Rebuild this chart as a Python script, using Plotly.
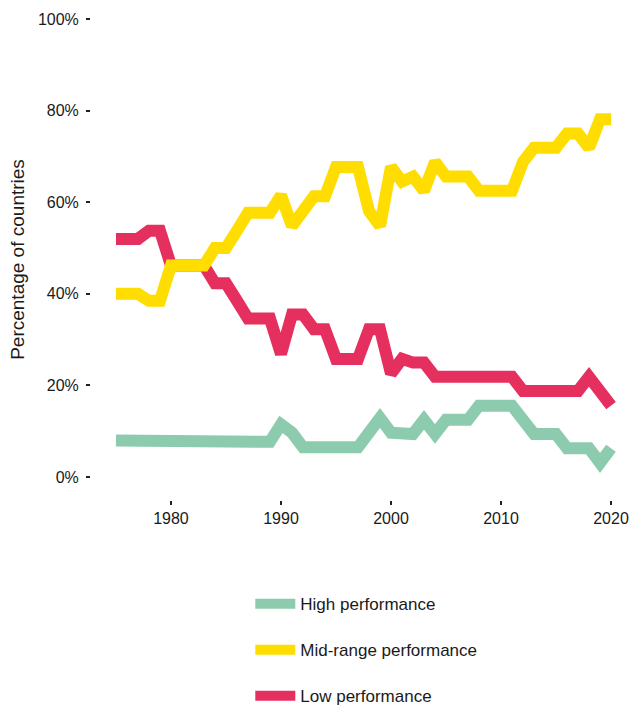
import plotly.graph_objects as go

years = list(range(1975, 2021))

high = [8.0, 8.0, 8.0, 7.7, 7.7, 7.7, 7.7, 7.7, 7.7, 7.7,
        7.7, 7.7, 7.7, 7.7, 7.7, 11.5, 9.7, 6.5, 6.5, 6.5,
        6.5, 6.5, 6.5, 9.7, 12.9, 9.7, 9.7, 9.4, 12.5, 9.4,
        12.5, 12.5, 12.5, 15.6, 15.6, 15.6, 15.6, 12.5, 9.4, 9.4,
        9.4, 6.3, 6.3, 6.3, 3.1, 6.3]

mid = [40.0, 40.0, 40.0, 38.5, 38.5, 46.2, 46.2, 46.2, 46.2, 50.0,
       50.0, 53.8, 57.7, 57.7, 57.7, 61.5, 54.8, 58.1, 61.3, 61.3,
       67.7, 67.7, 67.7, 58.1, 54.8, 67.7, 64.5, 65.6, 62.5, 68.8,
       65.6, 65.6, 65.6, 62.5, 62.5, 62.5, 62.5, 68.8, 71.9, 71.9,
       71.9, 75.0, 75.0, 71.9, 78.1, 78.1]

low = [52.0, 52.0, 52.0, 53.8, 53.8, 46.2, 46.2, 46.2, 46.2, 42.3,
       42.3, 38.5, 34.6, 34.6, 34.6, 26.9, 35.5, 35.5, 32.3, 32.3,
       25.8, 25.8, 25.8, 32.3, 32.3, 22.6, 25.8, 25.0, 25.0, 21.9,
       21.9, 21.9, 21.9, 21.9, 21.9, 21.9, 21.9, 18.8, 18.8, 18.8,
       18.8, 18.8, 18.8, 21.9, 18.8, 15.6]

y_ticks = [0, 20, 40, 60, 80, 100]
x_ticks = [1980, 1990, 2000, 2010, 2020]

FONT = "Arial, Liberation Sans, sans-serif"

fig = go.Figure()
# red first so yellow sits on top where they overlap
fig.add_trace(go.Scatter(x=years, y=low, mode="lines", name="Low performance",
                         line=dict(color="#e52f5f", width=12),
                         legendgroup="c", legendrank=3))
fig.add_trace(go.Scatter(x=years, y=high, mode="lines", name="High performance",
                         line=dict(color="#8ccbad", width=12),
                         legendgroup="a", legendrank=1))
fig.add_trace(go.Scatter(x=years, y=mid, mode="lines", name="Mid-range performance",
                         line=dict(color="#ffdd00", width=12),
                         legendgroup="b", legendrank=2))

fig.update_layout(
    width=632, height=707,
    margin=dict(l=91, r=10, t=19, b=207, autoexpand=False),
    plot_bgcolor="white", paper_bgcolor="white",
    font=dict(family=FONT, size=16, color="#1a1a1a"),
    xaxis=dict(range=[1972.73, 2021.0], tickvals=x_ticks, ticks="outside",
               ticklen=4, tickwidth=2, tickcolor="#222", automargin=False,
               showgrid=False, zeroline=False, showline=False),
    yaxis=dict(range=[-5, 100], tickvals=y_ticks,
               ticktext=[f"{v}%" for v in y_ticks], automargin=False,
               ticks="outside", ticklen=4, tickwidth=2, tickcolor="#222",
               ticklabelstandoff=4,
               showgrid=False, zeroline=False, showline=False,
               title=dict(text="Percentage of countries", font=dict(size=19), standoff=8)),
    legend=dict(orientation="v", x=0.30, xanchor="left",
                yref="container", y=0.171, yanchor="top", itemwidth=40,
                font=dict(size=17), tracegroupgap=21, bgcolor="rgba(0,0,0,0)"),
    showlegend=True,
)

# drop the default 8px body margin so the figure fills the window exactly
fig.write_html("out.html", config={"displayModeBar": False},
               post_script="document.body.style.margin='0';document.body.style.overflow='hidden';")
